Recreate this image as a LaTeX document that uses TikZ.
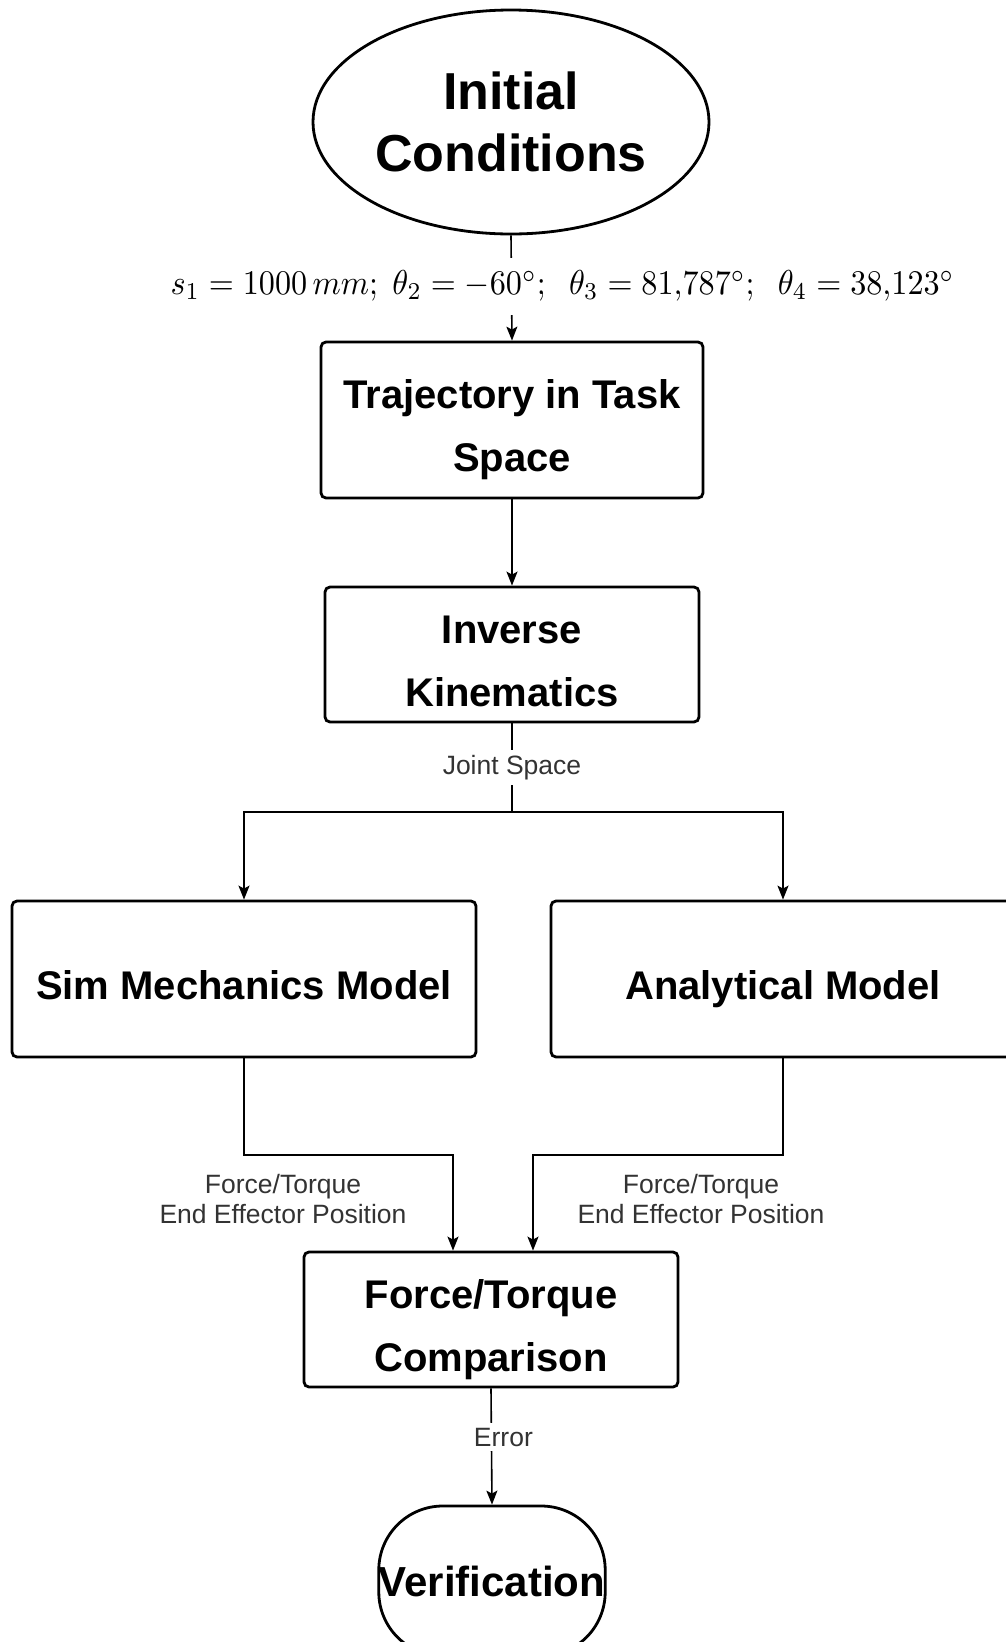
\documentclass[tikz,border=0pt]{standalone}
\usepackage[no-math]{fontspec}
\setmainfont{Liberation Sans}
\usetikzlibrary{shapes.geometric,arrows.meta}
\definecolor{lblgray}{HTML}{333333}
% box caption: centred lines; moving height from the bottom to the top
% sets them a little below the middle of the box
\newcommand\boxtext[1]{\raisebox{0pt}[\dimexpr\height+7.75pt\relax][\dimexpr\depth-7.75pt\relax]{\begin{tabular}{@{}c@{}}#1\end{tabular}}}
\begin{document}
\begin{tikzpicture}[x=1pt,y=-1pt,
  box/.style={draw, line width=2.8pt, rounded corners=5pt, fill=white,
    inner sep=0pt, font=\bfseries\fontsize{40}{63}\selectfont},
  startshape/.style={draw, ellipse, line width=2.8pt, fill=white, align=center,
    inner sep=0pt, font=\bfseries\fontsize{52}{62}\selectfont},
  endshape/.style={draw, line width=2.8pt, rounded corners=64pt, fill=white,
    inner sep=0pt, font=\bfseries\fontsize{42}{50}\selectfont},
  arr/.style={line width=1.6pt, -{Stealth[length=14pt,width=11pt,inset=3pt]}},
  conn/.style={line width=1.6pt},
  lbl/.style={font=\fontsize{26.5}{30}\selectfont, text=lblgray, align=center},
  lblcut/.style={lbl, fill=white, inner xsep=2pt, inner ysep=5pt},
  mathlbl/.style={fill=white, inner sep=0pt, minimum height=57pt}
]
\path[use as bounding box, clip] (0,0) rectangle (1006,1642);
\fill[white] (0,0) rectangle (1006,1642);

% nodes
\node[startshape, minimum width=396pt, minimum height=224pt] (ic) at (511,122)
  {Initial\\Conditions};
\node[box, minimum width=382pt, minimum height=156pt] (traj) at (512,420)
  {\boxtext{Trajectory in Task\\Space}};
\node[box, minimum width=374pt, minimum height=135pt] (ik) at (512,654.5)
  {\boxtext{Inverse\\Kinematics}};
\node[box, minimum width=464pt, minimum height=156pt] (sim) at (244,979)
  {\boxtext{Sim Mechanics Model}};
\node[box, minimum width=464pt, minimum height=156pt] (ana) at (783,979)
  {\boxtext{Analytical Model}};
\node[box, minimum width=374pt, minimum height=135pt] (cmp) at (491,1319.5)
  {\boxtext{Force/Torque\\Comparison}};
\node[endshape, minimum width=225pt, minimum height=150pt] (ver) at (492,1581)
  {Verification};

% connectors
\draw[arr] (ic.south) -- node[mathlbl, xshift=51pt, yshift=2pt]
  {\resizebox{784pt}{24pt}{$s_1=1000\,mm;\ \theta_2=-60^\circ;\ \ \theta_3=81{,}787^\circ;\ \ \theta_4=38{,}123^\circ$}}
  (traj.north);
\draw[arr] (traj.south) -- (ik.north);

\coordinate (split) at (512,812);
\draw[conn] (ik.south) -- node[lblcut]{Joint Space} (split);
\draw[arr] (split) -| (sim.north);
\draw[arr] (split) -| (ana.north);

\coordinate (lj) at (453,1155);
\coordinate (rj) at (533,1155);
\draw[arr] (sim.south) |- (lj) -- (lj |- cmp.north);
\draw[arr] (ana.south) |- (rj) -- (rj |- cmp.north);
\node[lbl] (lres) at (283,1199) {Force/Torque\\End Effector Position};
\node[lbl] (rres) at (701,1199) {Force/Torque\\End Effector Position};

\draw[arr] (cmp.south) -- node[lblcut, pos=0.42, xshift=12pt]{Error} (ver.north);
\end{tikzpicture}
\end{document}
